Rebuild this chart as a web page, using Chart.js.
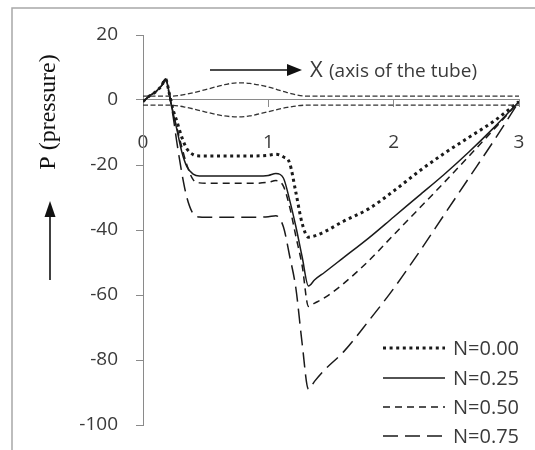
<!DOCTYPE html>
<html>
<head>
<meta charset="utf-8">
<script src="https://cdn.jsdelivr.net/npm/chart.js@4/dist/chart.umd.min.js"></script>
<style>
    html, body { margin: 0; padding: 0; background: #fff; overflow: hidden; }
    #wrap { position: relative; width: 535px; height: 450px; }
    #wrap canvas { display: block; }
</style>
</head>
<body>
<div id="wrap"><canvas id="chartPressao"></canvas></div>
<script>
// === DADOS ===
// posição ao longo do eixo do tubo (compartilhada pelas quatro curvas)
const posX = [0, 0.05, 0.1, 0.15, 0.18, 0.21, 0.24, 0.27, 0.31, 0.35, 0.4, 0.45,
    0.5, 0.6, 0.7, 0.8, 0.9, 1.0, 1.06, 1.12, 1.17, 1.22, 1.27, 1.32, 1.37,
    1.45, 1.6, 1.8, 2.0, 2.2, 2.4, 2.6, 2.8, 3.0];

const pN000 = [-0.5, 1.2, 2.5, 4.5, 6.5, 2, -3, -6.5, -11.5, -15, -16.8, -17.2,
    -17.2, -17.2, -17.2, -17.2, -17.2, -17, -16.7, -17.5, -19.4, -28.5, -38, -42.2, -41.8,
    -40.5, -37.3, -33.5, -28, -22, -16.5, -11.5, -6.5, -0.5];
const pN025 = [-0.5, 1.2, 2.5, 4.5, 6.5, 2, -4, -9, -16, -20.5, -22.8, -23.4,
    -23.4, -23.4, -23.4, -23.4, -23.4, -23.2, -22.6, -24, -30.8, -39, -48.3, -57.2, -55.3,
    -53, -48.5, -42.5, -36, -29.5, -23, -16, -8.5, -0.5];
const pN050 = [-0.5, 1.2, 2.5, 4.5, 6.5, 2, -4, -8.5, -14.5, -20, -24.5, -25.5,
    -25.6, -25.6, -25.6, -25.6, -25.6, -25.3, -24.8, -26.5, -32.9, -42, -51, -63.5, -62.5,
    -60.8, -56.5, -49.5, -41.5, -33.5, -25.5, -17.3, -9, -0.5];
const pN075 = [-0.5, 1.2, 2.5, 4.5, 6.5, 1.5, -5, -13, -22.5, -30, -35, -36,
    -36.1, -36.1, -36.1, -36.1, -36.1, -35.9, -35.6, -39, -48, -58, -75, -89, -86.5,
    -83, -77.5, -68, -58, -47, -35.5, -24, -12.5, -0.5];

const rotulosN = ["N=0.00", "N=0.25", "N=0.50", "N=0.75"];

// contorno do tubo (paredes com a dilatação)
const paredeX = [0, 0.22, 0.35, 0.5, 0.65, 0.75, 0.85, 1.0, 1.15, 1.3, 3.0];
const paredeSup = [1.2, 1.2, 1.8, 3.2, 4.7, 5.3, 5.1, 4.0, 2.3, 1.2, 1.2];
const paredeInf = [-1.6, -1.6, -2.3, -3.7, -4.9, -5.2, -4.9, -3.6, -2.3, -1.6, -1.6];

const ticksX = [0, 1, 2, 3];
const ticksY = [-100, -80, -60, -40, -20, 0, 20];

// === ESTILOS ===
const FONTE = "'Open Sans', 'Liberation Sans', sans-serif";
const COR_TEXTO = "#3a3a3a";
const COR_EIXO = "#8a8a8a";
const COR_LINHA = "#1a1a1a";

const estilosN = [
    { borderDash: [3, 3.6], borderWidth: 3 },
    { borderDash: [], borderWidth: 1.5 },
    { borderDash: [7, 5], borderWidth: 1.5 },
    { borderDash: [15, 7], borderWidth: 1.5 },
];

const pontos = (xs, ys) => xs.map((x, i) => ({ x, y: ys[i] }));

const datasets = [
    { label: "parede superior", data: pontos(paredeX, paredeSup), borderColor: "#333", borderWidth: 1.3, borderDash: [5, 2.5], parede: true },
    { label: "parede inferior", data: pontos(paredeX, paredeInf), borderColor: "#333", borderWidth: 1.3, borderDash: [5, 2.5], parede: true },
    ...[pN000, pN025, pN050, pN075].map((serie, i) => ({
        label: rotulosN[i],
        data: pontos(posX, serie),
        borderColor: COR_LINHA,
        borderCapStyle: "butt",
        ...estilosN[i],
    })),
];

// os rótulos das escalas não devem empurrar a área do gráfico
const semFolga = s => {
    s.paddingLeft = 0;
    s.paddingRight = 0;
    s.paddingTop = 0;
    s.paddingBottom = 0;
};

// === DECORAÇÃO: moldura, títulos dos eixos, setas e legenda ===
const decoracao = {
    id: "decoracao",
    beforeDraw(chart) {
        const c = chart.ctx;
        c.save();
        c.fillStyle = "#fff";
        c.fillRect(0, 0, chart.width, chart.height);
        c.restore();
    },
    afterDraw(chart) {
        const c = chart.ctx;
        c.save();

        // moldura
        c.strokeStyle = "#a8a8a8";
        c.lineWidth = 1.5;
        c.beginPath();
        c.moveTo(12, chart.height);
        c.lineTo(12, 8);
        c.lineTo(chart.width, 8);
        c.stroke();

        c.fillStyle = "#111";
        c.strokeStyle = "#111";
        c.lineWidth = 1.6;

        // título do eixo Y e seta para cima
        c.save();
        c.translate(49, 112);
        c.rotate(-Math.PI / 2);
        c.font = "24px 'Liberation Serif', serif";
        c.textAlign = "center";
        c.textBaseline = "middle";
        c.fillText("P (pressure)", 0, 0);
        c.restore();

        c.beginPath();
        c.moveTo(50, 280);
        c.lineTo(50, 214);
        c.stroke();
        c.beginPath();
        c.moveTo(50, 201);
        c.lineTo(44.5, 217);
        c.lineTo(55.5, 217);
        c.closePath();
        c.fill();

        // seta do eixo X e texto
        c.beginPath();
        c.moveTo(210, 70);
        c.lineTo(290, 70);
        c.stroke();
        c.beginPath();
        c.moveTo(302, 70);
        c.lineTo(287, 64);
        c.lineTo(287, 76);
        c.closePath();
        c.fill();

        c.textBaseline = "middle";
        c.textAlign = "left";
        c.fillStyle = COR_TEXTO;
        c.font = "22px " + FONTE;
        c.fillText("X", 310, 71);
        c.font = "19px " + FONTE;
        c.fillText("(axis of the tube)", 329, 72);

        // legenda
        const linhasY = [348, 378, 407, 436];
        chart.data.datasets.filter(d => !d.parede).forEach((d, i) => {
            const y = linhasY[i];
            c.strokeStyle = COR_LINHA;
            c.lineWidth = d.borderWidth;
            c.lineCap = "butt";
            c.setLineDash(d.borderDash);
            c.beginPath();
            c.moveTo(383, y);
            c.lineTo(445, y);
            c.stroke();
            c.setLineDash([]);
            c.fillStyle = COR_TEXTO;
            c.font = "20px " + FONTE;
            c.fillText(d.label, 453, y + 1);
        });

        c.restore();
    }
};

new Chart(document.getElementById("chartPressao"), {
    type: "line",
    data: { datasets },
    options: {
        responsive: true,
        maintainAspectRatio: false,
        animation: false,
        layout: { padding: { left: 0, top: 35, right: 16, bottom: 25 } },
        elements: {
            point: { radius: 0, hoverRadius: 0 },
            line: { cubicInterpolationMode: "monotone", fill: false },
        },
        plugins: { legend: { display: false }, tooltip: { enabled: false } },
        scales: {
            x: {
                type: "linear",
                position: { y: 0 },
                min: ticksX[0],
                max: ticksX[ticksX.length - 1],
                afterBuildTicks: s => { s.ticks = ticksX.map(v => ({ value: v })); },
                afterFit: semFolga,
                ticks: { padding: 24, color: COR_TEXTO, font: { family: FONTE, size: 19 } },
                grid: { display: true, drawOnChartArea: false, drawTicks: true, tickLength: 7, color: COR_EIXO },
                border: { display: true, color: COR_EIXO, width: 1 },
            },
            y: {
                type: "linear",
                position: "left",
                min: ticksY[0],
                max: ticksY[ticksY.length - 1],
                afterBuildTicks: s => { s.ticks = ticksY.map(v => ({ value: v })); },
                afterFit: s => { s.width = 143; semFolga(s); },
                ticks: { padding: 18, color: COR_TEXTO, font: { family: FONTE, size: 19 } },
                grid: { display: true, drawOnChartArea: false, drawTicks: true, tickLength: 7, color: COR_EIXO },
                border: { display: true, color: COR_EIXO, width: 1 },
            },
        },
    },
    plugins: [decoracao],
});
</script>
</body>
</html>
